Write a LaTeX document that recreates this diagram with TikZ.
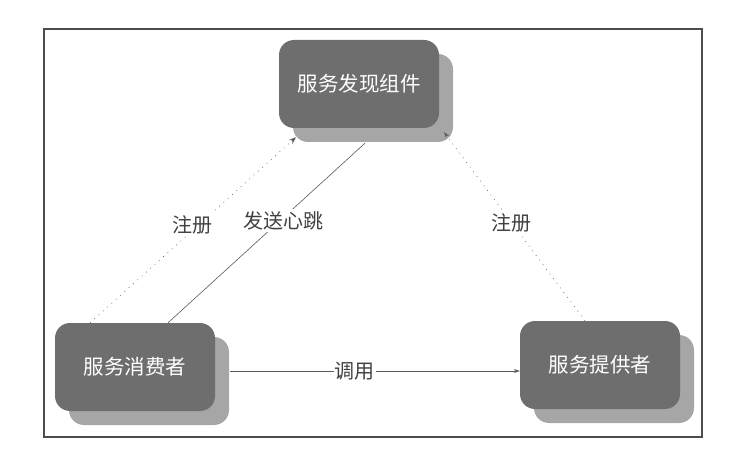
\documentclass[tikz,border=0pt]{standalone}
\usepackage{fontspec}
\setmainfont{Noto Sans CJK SC}
\usetikzlibrary{shadows,arrows.meta}
\definecolor{boxgray}{HTML}{6E6E6E}
\definecolor{shadegray}{HTML}{A6A6A6}
\definecolor{linegray}{HTML}{5A5A5A}
\tikzset{
  svcbox/.style={draw=none,fill=boxgray,rounded corners=15pt,text=white,
    minimum width=160pt,minimum height=88pt,font=\fontsize{20.5}{24}\selectfont,
    drop shadow={shadow xshift=14pt,shadow yshift=-14pt,fill=shadegray,opacity=1}},
  conn/.style={draw=linegray,line width=.6pt},
  dots/.style={conn,dash pattern=on .8pt off 5pt},
  lbl/.style={fill=white,text=black!75,inner sep=2pt,font=\fontsize{20}{24}\selectfont}
}
\begin{document}
\begin{tikzpicture}[x=1pt,y=-1pt]
\useasboundingbox (0,0) rectangle (732,476);
\draw[black!70,line width=1.2pt] (44,29) rectangle (702,437);
\node[svcbox] (disc) at (359,84) {服务发现组件};
\node[svcbox] (cons) at (135,367) {服务消费者};
\node[svcbox] (prov) at (600,365) {服务提供者};
% registration and heartbeat
\draw[dots,-{Stealth[length=7pt,width=5pt]}] ([xshift=-45pt]cons.north) -- ([xshift=-63pt,yshift=-9pt]disc.south)
  node[lbl,pos=.53,xshift=-7pt] (regl) {注册};
\draw[conn] ([xshift=33pt]cons.north) -- ([xshift=6pt,yshift=-15pt]disc.south)
  node[lbl,pos=.57,xshift=3pt] (beat) {发送心跳};
\draw[dots,-{Stealth[length=6pt,width=4pt]}] ([xshift=-15pt]prov.north) -- ([xshift=85pt,yshift=-4pt]disc.south)
  node[lbl,pos=.52] (regr) {注册};
% call
\draw[conn,-{Stealth[length=6pt,width=4pt]}] ([xshift=15pt,yshift=-4pt]cons.east) -- ([yshift=-6pt]prov.west)
  node[lbl,pos=.43,inner sep=1pt] (call) {调用};
\end{tikzpicture}
\end{document}
